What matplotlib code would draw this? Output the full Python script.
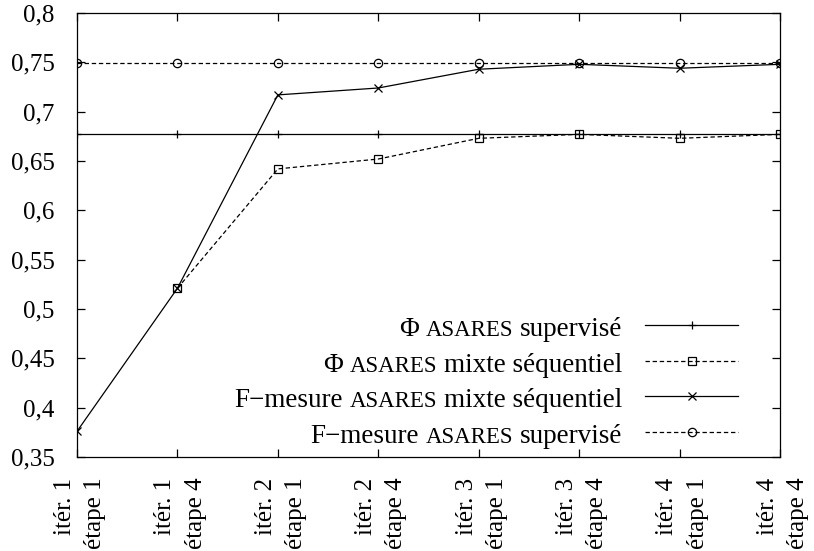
import numpy as np
import matplotlib
matplotlib.use("Agg")
import matplotlib.pyplot as plt
import matplotlib.transforms as mtransforms
from matplotlib.lines import Line2D
from matplotlib.ticker import FixedLocator, FuncFormatter

plt.rcParams['font.family'] = ['Liberation Serif', 'DejaVu Serif']

# ---------------- data ----------------
x_labels = ['itér. 1\nétape 1', 'itér. 1\nétape 4', 'itér. 2\nétape 1', 'itér. 2\nétape 4',
            'itér. 3\nétape 1', 'itér. 3\nétape 4', 'itér. 4\nétape 1', 'itér. 4\nétape 4']
phi_supervise = [0.677, 0.677, 0.677, 0.677, 0.677, 0.677, 0.677, 0.677]
phi_mixte = [np.nan, 0.521, 0.642, 0.652, 0.673, 0.677, 0.673, 0.677]
f_mixte = [0.376, 0.521, 0.717, 0.724, 0.743, 0.748, 0.744, 0.748]
f_supervise = [0.749, 0.749, 0.749, 0.749, 0.749, 0.749, 0.749, 0.749]
y_ticks = [0.35, 0.4, 0.45, 0.5, 0.55, 0.6, 0.65, 0.7, 0.75, 0.8]

MAIN, SMALL = 19.5, 16.5
legend_entries = [
    ([('Φ', MAIN), ('ASARES', SMALL), ('supervisé', MAIN)], '-', '+', 'full'),
    ([('Φ', MAIN), ('ASARES', SMALL), ('mixte séquentiel', MAIN)], '--', 's', 'none'),
    ([('F−mesure', MAIN), ('ASARES', SMALL), ('mixte séquentiel', MAIN)], '-', 'x', 'full'),
    ([('F−mesure', MAIN), ('ASARES', SMALL), ('supervisé', MAIN)], '--', 'o', 'none'),
]

W, H = 814, 551
fig = plt.figure(figsize=(W / 100, H / 100), dpi=100)
L, R, T, B = 77, 780, 13, 457
ax = fig.add_axes([L / W, 1 - B / H, (R - L) / W, (B - T) / H])

x = np.arange(len(x_labels))
lw = 0.9
dash = (0, (3.5, 2.2))
ms = 6
ax.plot(x, phi_supervise, color='black', lw=lw, ls='-', marker='+', ms=ms, mew=0.9)
ax.plot(x, phi_mixte, color='black', lw=lw, ls=dash, marker='s', ms=ms, mfc='none', mew=0.9)
ax.plot(x, f_mixte, color='black', lw=lw, ls='-', marker='x', ms=ms, mew=0.9)
ax.plot(x, f_supervise, color='black', lw=lw, ls=dash, marker='o', ms=ms, mfc='none', mew=0.9)

ax.set_xlim(0, len(x_labels) - 1)
ax.set_ylim(0.35, 0.8)
ax.yaxis.set_major_locator(FixedLocator(y_ticks))
ax.yaxis.set_major_formatter(FuncFormatter(lambda v, p: f'{v:g}'.replace('.', ',')))
ax.set_xticks(x)
ax.set_xticklabels(x_labels, rotation=90, ha='center', va='top', multialignment='right',
                   linespacing=1.48)
ax.tick_params(axis='both', direction='in', length=6, width=0.9, labelsize=18,
               top=True, right=True)
ax.tick_params(axis='y', pad=16)
ax.tick_params(axis='x', pad=15)
shift = mtransforms.ScaledTranslation(3 / 100, 0, fig.dpi_scale_trans)
for lbl in ax.get_xticklabels():
    lbl.set_transform(lbl.get_transform() + shift)
for s in ax.spines.values():
    s.set_linewidth(0.9)

# ---------------- legend (manual, mixed font sizes) ----------------
renderer = fig.canvas.get_renderer()
ident = mtransforms.IdentityTransform()
text_right = 622
line_x0, line_x1 = 645, 738
rows_y = [325, 360.7, 396, 431.7]
for (pieces, ls, mk, fill), yc in zip(legend_entries, rows_y):
    ydisp = H - (yc + 11)
    cur = text_right
    for i, (txt, size) in enumerate(reversed(pieces)):
        t = fig.text(cur, ydisp, txt, transform=ident, ha='right', va='baseline',
                     fontsize=size)
        bb = t.get_window_extent(renderer)
        cur = bb.x0 - 6.5
    ax_y = (B - yc) / (B - T)
    ax.add_line(Line2D([(line_x0 - L) / (R - L), (line_x1 - L) / (R - L)], [ax_y, ax_y],
                       transform=ax.transAxes, color='black', lw=lw,
                       ls=ls if ls == '-' else dash))
    ax.add_line(Line2D([((line_x0 + line_x1) / 2 - L) / (R - L)], [ax_y],
                       transform=ax.transAxes, color='black', ls='none', marker=mk,
                       ms=ms, mfc='none' if fill == 'none' else 'black', mew=0.9))

fig.savefig('out.png', dpi=100)
